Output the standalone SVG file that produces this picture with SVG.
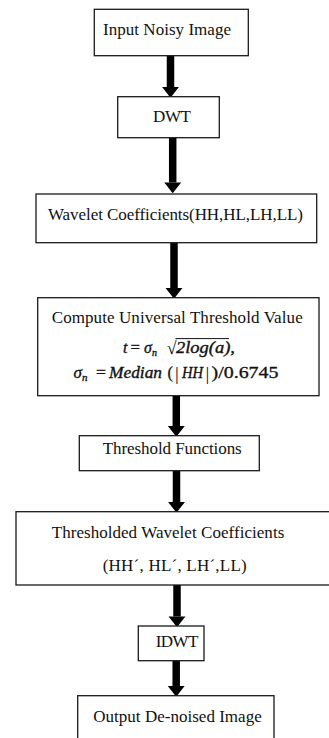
<svg xmlns="http://www.w3.org/2000/svg" width="329" height="738" viewBox="0 0 329 738">
<style>
.box{fill:#fff;stroke:#1a1a1a;stroke-width:1.3}
text{font-family:'Liberation Serif','DejaVu Serif','Noto Serif','Times New Roman',serif;fill:#111}
.t{font-size:17px}
.m{font-size:16px;font-style:italic;stroke:#111;stroke-width:0.35}
.mr{font-size:16px;stroke:#111;stroke-width:0.3}
.shaft{stroke:#000;stroke-width:7.5;fill:none}
</style>
<defs>
<marker id="head" markerUnits="userSpaceOnUse" markerWidth="12" markerHeight="18" viewBox="0 -8 10 16" refX="0" refY="0" orient="auto">
<path d="M0,-7.5 L9.5,0 L0,7.5 Z" fill="#000"/>
</marker>
</defs>
<rect width="329" height="738" fill="#fff"/>
<g id="connectors">
<line class="shaft" x1="170.5" y1="56" x2="170.5" y2="87" marker-end="url(#head)"/>
<line class="shaft" x1="172.7" y1="138" x2="172.7" y2="182.5" marker-end="url(#head)"/>
<line class="shaft" x1="174" y1="243" x2="174" y2="288" marker-end="url(#head)"/>
<line class="shaft" x1="176.3" y1="396" x2="176.3" y2="426" marker-end="url(#head)"/>
<line class="shaft" x1="176.5" y1="471" x2="176.5" y2="502" marker-end="url(#head)"/>
<line class="shaft" x1="177" y1="585" x2="177" y2="616.5" marker-end="url(#head)"/>
<line class="shaft" x1="176.2" y1="661" x2="176.2" y2="686" marker-end="url(#head)"/>
</g>
<g id="input">
<rect class="box" x="94.3" y="9.3" width="154" height="46.4"/>
<text class="t" x="103" y="35" textLength="128">Input Noisy Image</text>
</g>
<g id="dwt">
<rect class="box" x="117.7" y="96.7" width="101.6" height="41"/>
<text class="t" x="153" y="121.7" textLength="38">DWT</text>
</g>
<g id="coeffs">
<rect class="box" x="36" y="194" width="280.7" height="48.7"/>
<text class="t" x="48" y="220" textLength="255">Wavelet Coefficients(HH,HL,LH,LL)</text>
</g>
<g id="threshold-value">
<rect class="box" x="37.7" y="297.7" width="281.3" height="98"/>
<text class="t" x="51.7" y="323.3" textLength="251">Compute Universal Threshold Value</text>
<text class="m" x="123" y="353">t</text>
<text class="mr" x="130.5" y="353" textLength="9.5" lengthAdjust="spacingAndGlyphs">=</text>
<text class="m" x="144" y="353">σ<tspan style="font-size:10px" dy="2.5">n</tspan></text>
<text class="mr" x="166.8" y="354" style="font-size:18px;stroke-width:0">√</text>
<line x1="175.5" y1="338.6" x2="229" y2="338.6" stroke="#111" stroke-width="1"/>
<text class="m" x="176" y="353" textLength="59" lengthAdjust="spacingAndGlyphs">2log(a),</text>
<text class="m" x="73.5" y="378" style="font-size:17px">σ<tspan style="font-size:11px" dy="2.5">n</tspan></text>
<text class="mr" x="96" y="378" textLength="10" lengthAdjust="spacingAndGlyphs">=</text>
<text class="m" x="109" y="378" textLength="53" lengthAdjust="spacingAndGlyphs">Median</text>
<text class="mr" x="167.5" y="378">(</text>
<text class="mr" x="175" y="380" style="font-size:19px;stroke-width:0">|</text>
<text class="m" x="182" y="378" textLength="21" lengthAdjust="spacingAndGlyphs">HH</text>
<text class="mr" x="205.5" y="380" style="font-size:19px;stroke-width:0">|</text>
<text class="mr" x="211.5" y="378" textLength="67" lengthAdjust="spacingAndGlyphs">)/0.6745</text>
</g>
<g id="threshold-functions">
<rect class="box" x="79.3" y="435.7" width="180" height="35"/>
<text class="t" x="102.7" y="454" textLength="139">Threshold Functions</text>
</g>
<g id="thresholded">
<rect class="box" x="16" y="511.7" width="320" height="73.3"/>
<text class="t" x="51.7" y="537.7" textLength="232.6">Thresholded Wavelet Coefficients</text>
<text class="t" x="102.7" y="571" textLength="144">(HH´, HL´, LH´,LL)</text>
</g>
<g id="idwt">
<rect class="box" x="138.3" y="626" width="65.7" height="34.7"/>
<text class="t" x="155.7" y="646.7" textLength="42.6">IDWT</text>
</g>
<g id="output">
<rect class="box" x="77.7" y="695.7" width="196.3" height="60"/>
<text class="t" x="93.3" y="721.7" textLength="168.4">Output De-noised Image</text>
</g>
</svg>
